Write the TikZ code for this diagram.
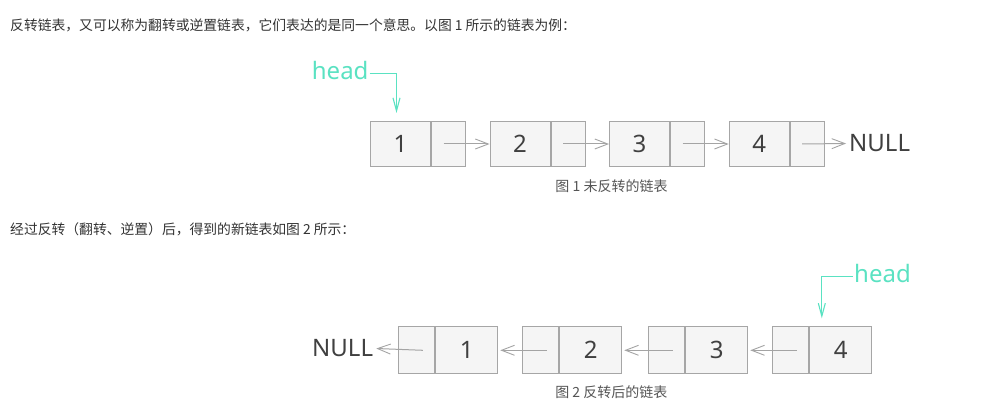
\documentclass[tikz,border=0pt]{standalone}
\usepackage{fontspec}
\setmainfont{Noto Sans}
\newfontfamily\cjkfont{Noto Sans CJK SC}
\newfontfamily\labfont{Noto Sans}
\usetikzlibrary{arrows.meta}
\definecolor{boxgray}{HTML}{A6A6A6}
\definecolor{boxfill}{HTML}{F5F5F5}
\definecolor{arrgray}{HTML}{A4A4A4}
\definecolor{teal}{HTML}{5AE2C2}
\definecolor{txt}{HTML}{404040}
\definecolor{body}{HTML}{333333}
\definecolor{cap}{HTML}{555555}
\tikzset{
  cell/.style={draw=boxgray, fill=boxfill, line width=1pt, inner sep=0pt,
    font=\labfont\fontsize{24}{28}\selectfont, text=txt, anchor=north west},
  dcellA/.style={cell, minimum width=60pt, minimum height=45pt},
  pcellA/.style={cell, minimum width=34pt, minimum height=45pt},
  dcellB/.style={cell, minimum width=62pt, minimum height=47pt},
  pcellB/.style={cell, minimum width=36pt, minimum height=47pt},
  lab/.style={inner sep=0pt, font=\labfont\fontsize{24}{28}\selectfont, text=txt},
  headlab/.style={inner sep=0pt, font=\labfont\fontsize{24}{28}\selectfont, text=teal},
  link/.style={draw=arrgray, line width=1pt, -{Straight Barb[length=13pt,width=10pt,line width=0.9pt]}},
  headarrow/.style={draw=teal, line width=1.2pt, -{Straight Barb[length=13pt,width=7pt,line width=1.1pt]}},
  bodytext/.style={inner sep=0pt, anchor=base west, font=\cjkfont\fontsize{13.8}{16}\selectfont, text=body},
  captext/.style={inner sep=0pt, font=\cjkfont\fontsize{14}{16}\selectfont, text=cap},
}
\begin{document}
\begin{tikzpicture}[x=1pt, y=-1pt]
\useasboundingbox (0,0) rectangle (984,411);
\fill[white] (0,0) rectangle (984,411);

\node[bodytext] (t1) at (10,31) {反转链表，又可以称为翻转或逆置链表，它们表达的是同一个意思。以图 1 所示的链表为例：};

% Figure 1
\node[dcellA] (a1) at (370,121) {1};
\node[pcellA] (ap1) at (a1.north east) {};
\node[dcellA] (a2) at (489.5,121) {2};
\node[pcellA] (ap2) at (a2.north east) {};
\node[dcellA] (a3) at (609,121) {3};
\node[pcellA] (ap3) at (a3.north east) {};
\node[dcellA] (a4) at (728.7,121) {4};
\node[pcellA] (ap4) at (a4.north east) {};
\node[lab, anchor=west] (anull) at (849,143.5) {NULL};

\draw[link] ([xshift=-5pt]ap1.center) -- (a2.west);
\draw[link] ([xshift=-5pt]ap2.center) -- (a3.west);
\draw[link] ([xshift=-5pt]ap3.center) -- (a4.west);
\draw[link] ([xshift=-5pt]ap4.center) -- ([xshift=-3pt]anull.west);

\node[headlab, anchor=base west] (ah) at (311.7,79.3) {head};
\draw[headarrow] ([xshift=1pt,yshift=-3pt]ah.east) -| ([xshift=-4pt,yshift=8pt]a1.north);

\node[captext] (c1) at (611.5,186) {图 1 未反转的链表};

\node[bodytext] (t2) at (10,235) {经过反转（翻转、逆置）后，得到的新链表如图 2 所示：};

% Figure 2
\node[pcellB] (bp1) at (398.3,326.3) {};
\node[dcellB] (b1) at (bp1.north east) {1};
\node[pcellB] (bp2) at (522.3,326.3) {};
\node[dcellB] (b2) at (bp2.north east) {2};
\node[pcellB] (bp3) at (648.3,326.3) {};
\node[dcellB] (b3) at (bp3.north east) {3};
\node[pcellB] (bp4) at (772.3,326.3) {};
\node[dcellB] (b4) at (bp4.north east) {4};
\node[lab, anchor=east] (bnull) at (373.3,348.5) {NULL};

\draw[link] ([xshift=6pt]bp1.center) -- ([xshift=3pt]bnull.east);
\draw[link] ([xshift=6pt]bp2.center) -- ([xshift=2pt]b1.east);
\draw[link] ([xshift=6pt]bp3.center) -- ([xshift=2pt]b2.east);
\draw[link] ([xshift=6pt]bp4.center) -- ([xshift=2pt]b3.east);

\node[headlab, anchor=base west] (bh) at (854,282.7) {head};
\draw[headarrow] ([xshift=-1pt,yshift=-3pt]bh.west) -| ([xshift=-19pt,yshift=8pt]b4.north);

\node[captext] (c2) at (611.3,391.7) {图 2 反转后的链表};
\end{tikzpicture}
\end{document}
